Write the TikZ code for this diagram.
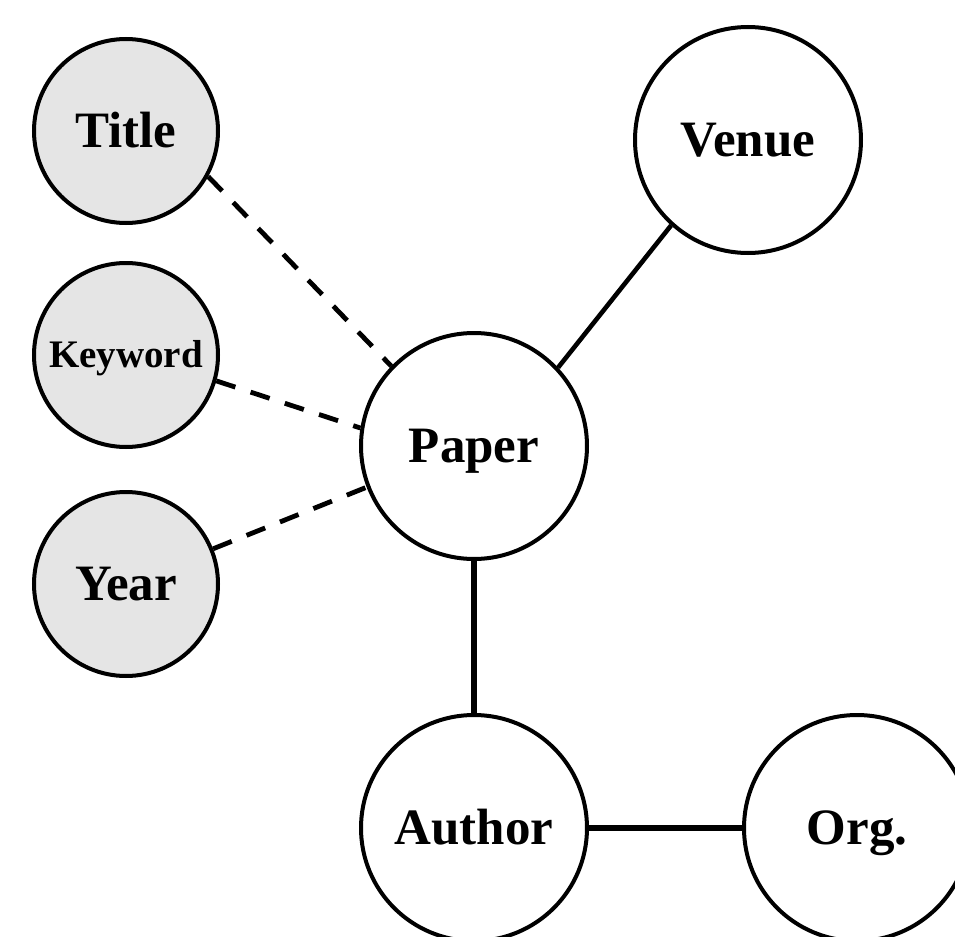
\documentclass[tikz,border=0pt]{standalone}
\usepackage{fontspec}
\setmainfont{Liberation Serif}
\usepackage{tikz}
\usetikzlibrary{positioning}

\begin{document}
\begin{tikzpicture}[
  x=0.5pt, y=-0.5pt,
  attr/.style={draw, circle, line width=2pt, fill=black!10, inner sep=0pt, minimum size=92pt, font=\bfseries\fontsize{25.5}{28}\selectfont, text height=16.8pt, text depth=0pt},
  entity/.style={draw, circle, line width=2pt, fill=white, inner sep=0pt, minimum size=113pt, font=\bfseries\fontsize{25.5}{28}\selectfont, text height=16.8pt, text depth=0pt},
  weak/.style={dash pattern=on 10pt off 8pt, line width=2.4pt},
  link/.style={line width=2.3pt},
  heavy/.style={line width=3pt}
]
  \useasboundingbox (0,0) rectangle (955,937);
  \clip (0,0) rectangle (955,937);

  \node[attr] (title) at (126,131) {Title};
  \node[attr, font=\bfseries\fontsize{19.5}{22}\selectfont, text height=12.8pt] (keyword) at (126,355) {Keyword};
  \node[attr] (year) at (126,584) {Year};

  \node[entity] (paper) at (474,446) {Paper};
  \node[entity] (venue) at (748,140) {Venue};
  \node[entity] (author) at (474,828) {Author};
  \node[entity] (org) at (857,828) {Org.};

  \draw[weak] (title.-29) -- (paper.136);
  \draw[weak] (keyword.-16) -- (paper.171);
  \draw[weak] (year.22) -- (paper.-159);
  \draw[link] (venue.228) -- (paper.43);
  \draw[heavy] (paper.south) -- (author.north);
  \draw[heavy] (author.east) -- (org.west);
\end{tikzpicture}
\end{document}
